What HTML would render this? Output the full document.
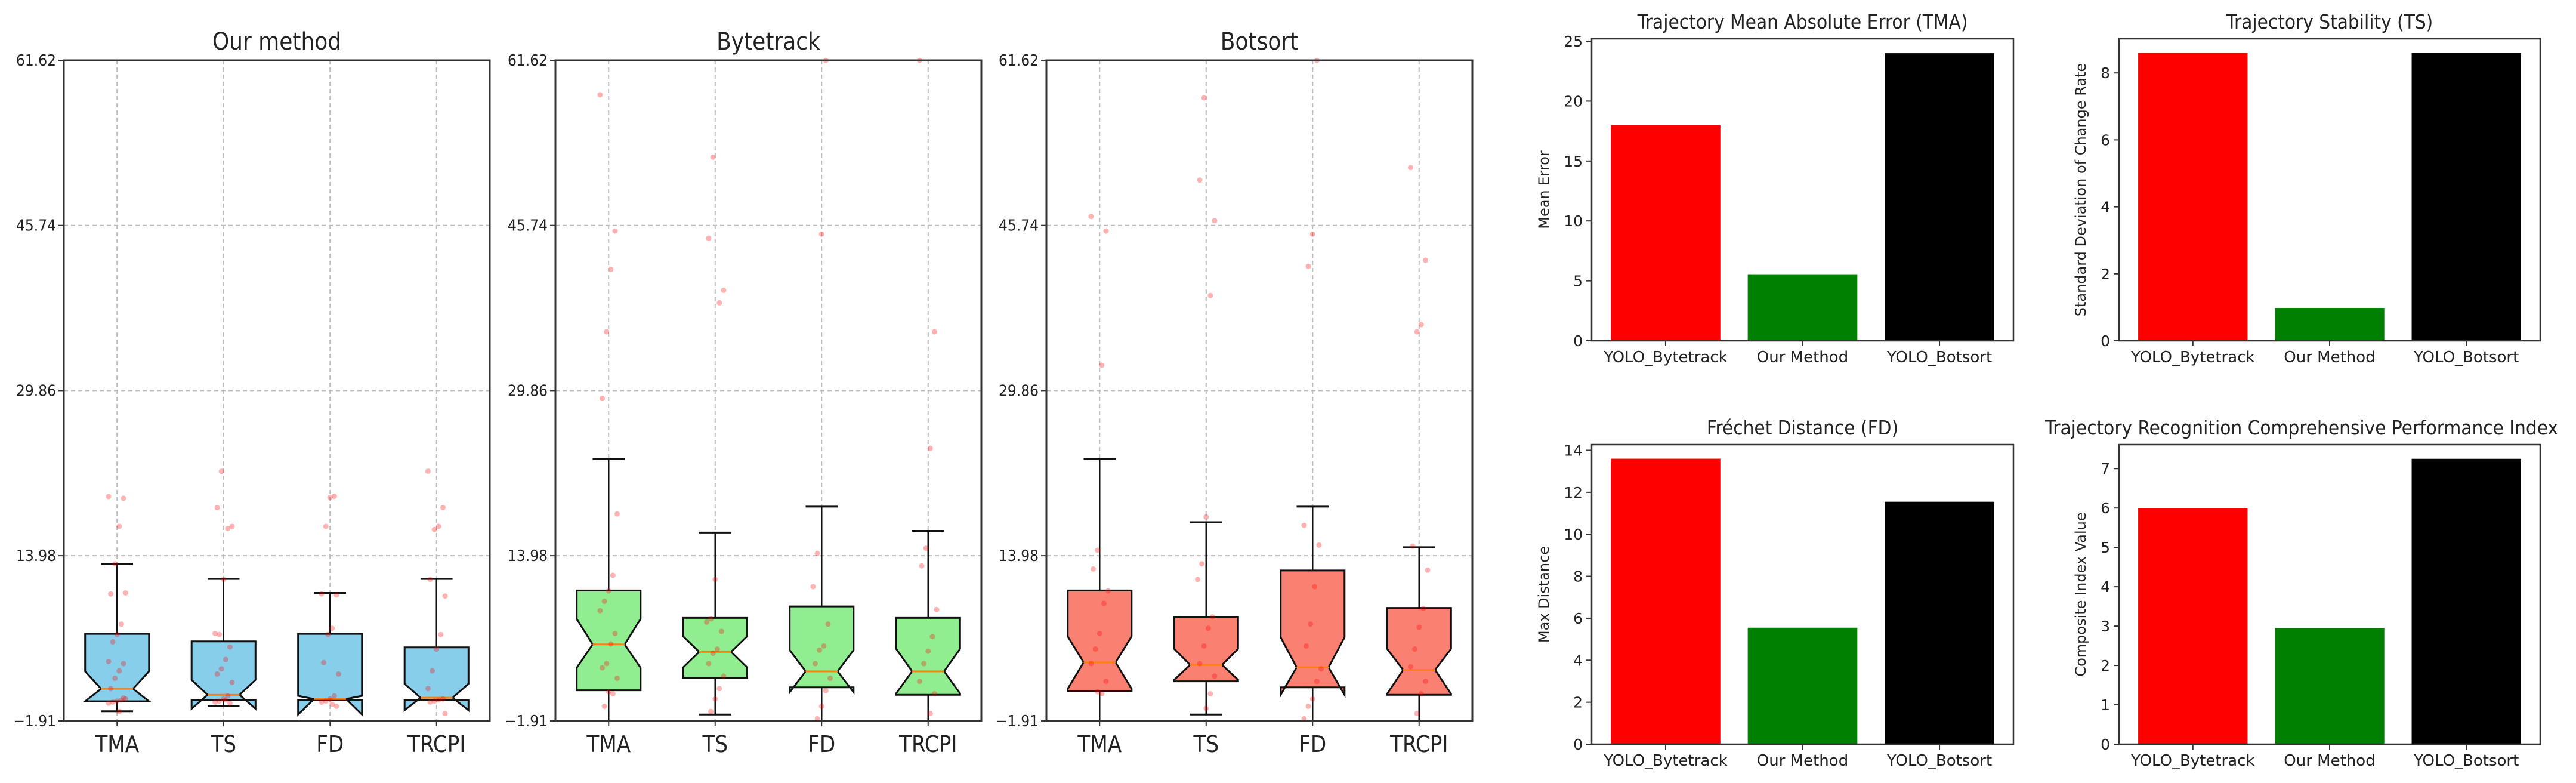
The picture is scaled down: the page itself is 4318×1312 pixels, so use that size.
<!DOCTYPE html>
<html><head><meta charset="utf-8"><style>
html,body{margin:0;padding:0;background:#fff}
svg{display:block}
text{font-family:"DejaVu Sans Condensed","Liberation Sans Narrow","Liberation Sans",sans-serif;fill:#222}
.yl,.bt{font-family:"DejaVu Sans","Liberation Sans",sans-serif}
</style></head><body>
<svg id="c" width="4318" height="1312" viewBox="0 0 4318 1312" xmlns="http://www.w3.org/2000/svg"></svg>
<script>
// ---------- box plot data ----------
const boxTitles = ["Our method","Bytetrack","Botsort"];
const boxCats = ["TMA","TS","FD","TRCPI"];
const boxTicks = [-1.91,13.98,29.86,45.74,61.62];
const boxQ1  = [[-0.02,0.12,0.12,0.08],[1.04,2.24,1.32,0.6],[0.94,1.9,1.32,0.6]];
const boxMed = [[1.18,0.6,0.2,0.32],[5.45,4.73,2.86,2.86],[3.72,3.48,3.24,3.0]];
const boxQ3  = [[6.46,5.74,6.46,5.16],[10.64,8.0,9.1,8.0],[10.64,8.1,12.56,8.96]];
const boxNLo = [[-0.02,-0.74,-1.3,-0.88],[3.2,3.24,0.85,0.74],[1.18,2.04,0.6,0.7]];
const boxNHi = [[2.86,2.04,0.5,1.66],[7.9,6.22,4.9,5.02],[6.22,5.02,6.13,5.02]];
const boxWLo = [[-0.98,-0.5,0.12,0.08],[-1.91,-1.29,-1.91,-1.91],[-1.91,-1.29,-1.91,-1.91]];
const boxWHi = [[13.18,11.74,10.4,11.74],[23.26,16.2,18.7,16.37],[23.26,17.2,18.7,14.8]];
const boxPts = [
 [[19.67,19.5,16.8,13.2,10.3,10.4,7.4,6.4,5.7,3.8,3.6,2.9,2.2,1.2,0.2,0.1,0,-0.1,-0.2,0.3,-1.0],
  [22.1,18.6,16.8,16.6,11.7,6.4,6.5,5.2,4.0,3.1,2.6,1.8,0.5,0.2,0,-0.1,-0.2,0.1],
  [19.7,19.6,16.8,10.3,10.2,7.0,6.4,3.7,2.6,0.5,0.2,0,-0.1,-0.5,-0.3],
  [22.1,18.6,16.8,16.5,11.7,10.1,6.4,5.0,2.9,1.2,0.2,0.1,0,-0.1,-1.2]],
 [[58.3,45.2,41.5,35.5,29.1,18.0,12.1,10.6,9.6,8.7,6.5,5.5,3.6,3.2,2.2,0.7,0.9,-0.5],
  [52.3,44.5,39.5,38.3,11.7,7.9,7.6,6.7,5.0,4.6,3.6,2.4,1.2,0.2,-1.0],
  [61.6,44.9,14.2,11.0,7.4,5.3,4.9,3.6,2.2,1.0,-0.5,-1.7],
  [61.6,35.5,24.3,14.7,13.0,8.8,6.2,4.8,3.6,1.9,0.7,-1.2]],
 [[46.6,45.2,32.3,14.5,12.7,10.6,9.4,6.5,5.0,3.6,1.9,0.7,0.9],
  [58.0,50.1,46.2,39.0,17.7,13.2,11.7,8.1,7.0,5.3,3.6,2.4,0.7,-0.7],
  [61.6,44.9,41.8,16.9,15.0,11.0,7.4,5.3,3.1,1.9,0.2,-0.5,-1.7],
  [51.3,42.4,36.2,35.5,14.9,12.6,8.9,7.1,5.0,3.3,1.9,0.7,-1.2]]
];
// ---------- bar chart data ----------
const barTitles = ["Trajectory Mean Absolute Error (TMA)","Trajectory Stability (TS)","Fréchet Distance (FD)","Trajectory Recognition Comprehensive Performance Index"];
const barYLabels = ["Mean Error","Standard Deviation of Change Rate","Max Distance","Composite Index Value"];
const barCats = ["YOLO_Bytetrack","Our Method","YOLO_Botsort"];
const barTMA = [18.0,5.55,24.0];
const barTS = [8.6,0.98,8.6];
const barFD = [13.6,5.55,11.55];
const barTRCPI = [6.0,2.95,7.25];
const barYMax = [25.2,9.02,14.27,7.61];
const barTicks = [[0,5,10,15,20,25],[0,2,4,6,8],[0,2,4,6,8,10,12,14],[0,1,2,3,4,5,6,7]];

const NS="http://www.w3.org/2000/svg";
const svg=document.getElementById('c');
function mk(tag,attrs,parent){const e=document.createElementNS(NS,tag);for(const k in attrs)e.setAttribute(k,attrs[k]);(parent||svg).appendChild(e);return e;}

// ----- box panels -----
const boxX=[107,931,1754], boxW=714, bTop=101, bBot=1208;
const boxFill=["#87CEEB","#90EE90","#FA8072"];
const yMin=-1.91,yMax=61.62;
function by(v){return bTop+(yMax-v)/(yMax-yMin)*(bBot-bTop);}
for(let p=0;p<3;p++){
  const L=boxX[p];
  const g=mk('g',{});
  
  
  function bx(d){return L+(d+0.5)/4*boxW;}
  boxTicks.forEach(t=>{
    const ln=mk('line',{x1:L,x2:L+boxW,y1:by(t),y2:by(t),stroke:'#bbb','stroke-width':2,'stroke-dasharray':'7,5'},g);
    
    
    mk('line',{x1:L-9,x2:L,y1:by(t),y2:by(t),stroke:'#333','stroke-width':2},g);
    const tx=mk('text',{x:L-13,y:by(t)+9,'text-anchor':'end','font-size':26},g);
    tx.textContent=t.toFixed(2).replace('-','−');
    
    
  });
  boxCats.forEach((c,i)=>{
    const ln=mk('line',{x1:bx(i),x2:bx(i),y1:bTop,y2:bBot,stroke:'#bbb','stroke-width':2,'stroke-dasharray':'7,5'},g);
    
    
    mk('line',{x1:bx(i),x2:bx(i),y1:bBot,y2:bBot+9,stroke:'#333','stroke-width':2},g);
    const tx=mk('text',{x:bx(i),y:bBot+52,'text-anchor':'middle','font-size':38},g);
    tx.textContent=c;
    
    
  });
  const unit=boxW/4, hw=0.3*unit, nw=0.15*unit, cw=0.15*unit;
  for(let i=0;i<4;i++){
    const cx=bx(i);
    const q1=by(boxQ1[p][i]),q3=by(boxQ3[p][i]),md=by(boxMed[p][i]),nl=by(boxNLo[p][i]),nh=by(boxNHi[p][i]);
    const wl=by(boxWLo[p][i]),wh=by(boxWHi[p][i]);
    const w1=mk('line',{x1:cx,x2:cx,y1:q3,y2:wh,stroke:'#111','stroke-width':2.5},g);
    
    
    mk('line',{x1:cx-cw,x2:cx+cw,y1:wh,y2:wh,stroke:'#111','stroke-width':3},g);
    const w2=mk('line',{x1:cx,x2:cx,y1:q1,y2:Math.min(wl,bBot),stroke:'#111','stroke-width':2.5},g);
    
    
    if(wl<bBot-2) mk('line',{x1:cx-cw,x2:cx+cw,y1:wl,y2:wl,stroke:'#111','stroke-width':3},g);
    const pts=[[cx-hw,q1],[cx+hw,q1],[cx+hw,nl],[cx+nw,md],[cx+hw,nh],[cx+hw,q3],[cx-hw,q3],[cx-hw,nh],[cx-nw,md],[cx-hw,nl],[cx-hw,q1]];
    const box=mk('polygon',{points:pts.map(a=>a.join(',')).join(' '),fill:boxFill[p],stroke:'#111','stroke-width':3,'stroke-linejoin':'miter'},g);
    
    
    const m=mk('line',{x1:cx-nw,x2:cx+nw,y1:md,y2:md,stroke:'#ff7f0e','stroke-width':3},g);
    
    
    boxPts[p][i].forEach((v,k)=>{
      const off=(((k*7+i*3)%9)-4)*0.02*unit;
      const c=mk('circle',{cx:cx+off,cy:by(v),r:4.5,fill:'rgba(255,0,0,0.3)'},g);
      
      
    });
  }
  const fr=mk('rect',{x:L,y:bTop,width:boxW,height:bBot-bTop,fill:'none',stroke:'#333','stroke-width':3},g);
  
  
  const tt=mk('text',{x:L+boxW/2,y:83,'text-anchor':'middle','font-size':40},g);
  tt.textContent=boxTitles[p];
  
  
}

// ----- bar charts -----
const barVals=[barTMA,barTS,barFD,barTRCPI];
const barCol=["#ff0000","#008000","#000000"];
const barL=[2668,3552,2668,3552], barR=[3375,4258,3375,4258], barT=[65,65,745,745], barB=[571,571,1247,1247];
for(let c=0;c<4;c++){
  const L=barL[c],R=barR[c],T=barT[c],B=barB[c];
  const g=mk('g',{});
  
  
  const xs=d=>L+(d+0.54)/3.08*(R-L);
  const ys=v=>B-v/barYMax[c]*(B-T);
  barVals[c].forEach((v,i)=>{
    const r=mk('rect',{x:xs(i-0.4),y:ys(v),width:xs(i+0.4)-xs(i-0.4),height:B-ys(v),fill:barCol[i]},g);
    
    
    mk('line',{x1:xs(i),x2:xs(i),y1:B,y2:B+9,stroke:'#333','stroke-width':2},g);
    const tx=mk('text',{x:xs(i),y:B+36,'text-anchor':'middle','font-size':26,class:'bt'},g);
    tx.textContent=barCats[i];
    
    
  });
  barTicks[c].forEach(t=>{
    mk('line',{x1:L-9,x2:L,y1:ys(t),y2:ys(t),stroke:'#333','stroke-width':2},g);
    const tx=mk('text',{x:L-15,y:ys(t)+9,'text-anchor':'end','font-size':25,class:'bt'},g);
    tx.textContent=t;
    
    
  });
  const fr=mk('rect',{x:L,y:T,width:R-L,height:B-T,fill:'none',stroke:'#333','stroke-width':2.5},g);
  
  
  const tcx=(c===3)?3858:(L+R)/2;
  const tt=mk('text',{x:tcx,y:T-17,'text-anchor':'middle','font-size':33},g);
  tt.textContent=barTitles[c];
  
  
  const lx=(c%2===0)?2596:3496;
  const yl=mk('text',{x:lx,y:(T+B)/2,'text-anchor':'middle','font-size':24,class:'yl',transform:`rotate(-90 ${lx} ${(T+B)/2})`},g);
  yl.textContent=barYLabels[c];
  
  
}
</script>
</body></html>
